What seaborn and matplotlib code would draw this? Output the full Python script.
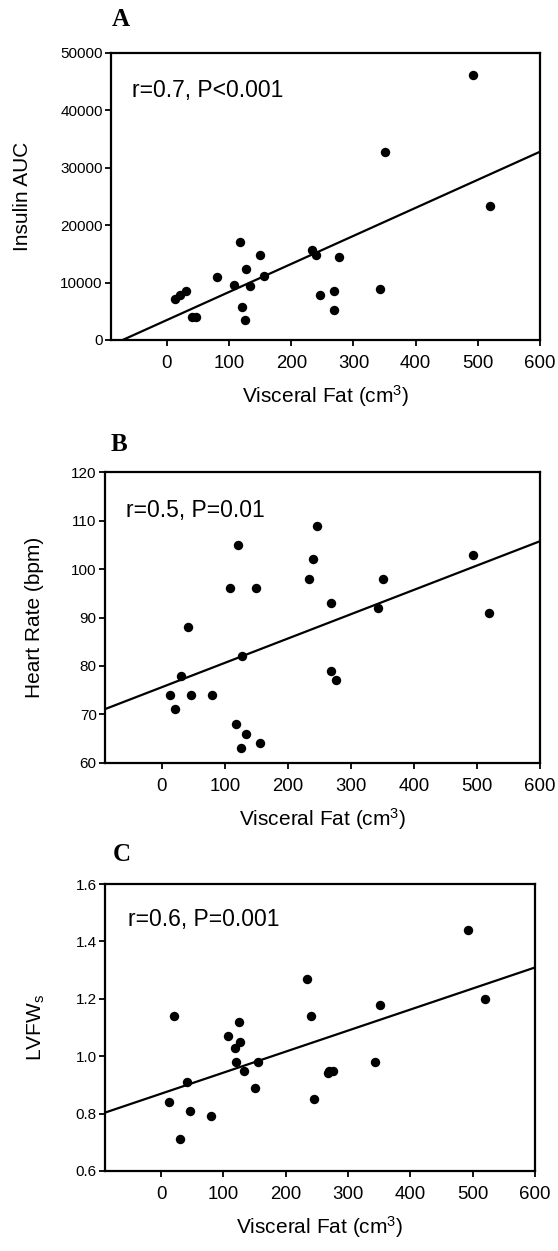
import numpy as np
import pandas as pd
import matplotlib
matplotlib.use("Agg")
import matplotlib.pyplot as plt
from matplotlib.ticker import FormatStrFormatter
import seaborn as sns

# ---- data ----
visceral_fat = [13, 21, 30, 41, 47, 80, 108, 118, 121, 125, 127, 133, 150, 156,
                234, 240, 246, 268, 269, 276, 343, 351, 493, 519]
insulin_auc = [7100, 7800, 8500, 4050, 4050, 11000, 9540, 17050, 5660, 3470, 12430,
               9360, 14850, 11100, 15720, 14850, 7860, 8550, 5200, 14450, 8960,
               32770, 46070, 23240]
heart_rate = [74, 71, 78, 88, 74, 74, 96, 68, 105, 63, 82, 66, 96, 64,
              98, 102, 109, 93, 79, 77, 92, 98, 103, 91]
lvfw = [0.84, 1.14, 0.71, 0.91, 0.81, 0.79, 1.07, 1.03, 0.98, 1.12, 1.05, 0.95,
        0.89, 0.98, 1.27, 1.14, 0.85, 0.94, 0.95, 0.95, 0.98, 1.18, 1.44, 1.20]

x_ticks = [0, 100, 200, 300, 400, 500, 600]
panel_letters = ["A", "B", "C"]
y_labels = ["Insulin AUC", "Heart Rate (bpm)", "LVFW$_{\\mathregular{s}}$"]
stats_text = ["r=0.7, P<0.001", "r=0.5, P=0.01", "r=0.6, P=0.001"]
y_ticks = [[0, 10000, 20000, 30000, 40000, 50000],
           [60, 70, 80, 90, 100, 110, 120],
           [0.6, 0.8, 1.0, 1.2, 1.4, 1.6]]

df = pd.DataFrame({"fat": visceral_fat, "insulin": insulin_auc,
                   "hr": heart_rate, "lvfw": lvfw})
y_cols = ["insulin", "hr", "lvfw"]

sns.set_style("ticks")
plt.rcParams["font.family"] = ["Liberation Sans", "DejaVu Sans"]
plt.rcParams["mathtext.fontset"] = "custom"
plt.rcParams["mathtext.rm"] = "Liberation Sans"
plt.rcParams["mathtext.it"] = "Liberation Sans"
plt.rcParams["mathtext.default"] = "regular"
for k in ["text.color", "axes.labelcolor", "xtick.color", "ytick.color", "axes.edgecolor"]:
    plt.rcParams[k] = "black"

W, H = 558, 1251
fig = plt.figure(figsize=(W / 100, H / 100), dpi=100)

# axes boxes in pixels: left, right, top, bottom
boxes = [(111, 540, 52.7, 340), (105, 540, 472.3, 762.7), (105, 535, 884, 1171)]
letter_pos = [(112, 26), (111, 451), (113, 861)]
ylabel_x = [-0.185, -0.14, -0.135]
stats_pos = [(0.048, 0.87), (0.049, 0.87), (0.053, 0.877)]

for i, (l, r, t, b) in enumerate(boxes):
    ax = fig.add_axes([l / W, 1 - b / H, (r - l) / W, (b - t) / H])
    ax.set_xlim(-90, 600)
    ax.set_ylim(y_ticks[i][0], y_ticks[i][-1])
    sns.regplot(data=df, x="fat", y=y_cols[i], ax=ax, ci=None, truncate=False,
                scatter_kws=dict(s=46, color="black", linewidths=0, alpha=1),
                line_kws=dict(color="black", lw=1.6))
    ax.set_xlim(-90, 600)
    ax.set_ylim(y_ticks[i][0], y_ticks[i][-1])
    ax.set_xticks(x_ticks)
    ax.set_yticks(y_ticks[i])
    if i == 2:
        ax.yaxis.set_major_formatter(FormatStrFormatter("%.1f"))
    for s in ax.spines.values():
        s.set_visible(True)
        s.set_linewidth(1.6)
        s.set_color("black")
    ax.tick_params(axis="both", direction="out", length=4, width=1.3,
                   color="black", labelcolor="black", top=False, right=False)
    ax.tick_params(axis="x", labelsize=13.4, pad=7)
    ax.tick_params(axis="y", labelsize=11, pad=2)
    ax.set_xlabel("Visceral Fat (cm$^{3}$)", fontsize=15, labelpad=8, color="black")
    ax.set_ylabel(y_labels[i], fontsize=15, color="black")
    ax.yaxis.set_label_coords(ylabel_x[i], 0.5)
    ax.text(stats_pos[i][0], stats_pos[i][1], stats_text[i], transform=ax.transAxes,
            fontsize=16.5, va="center", ha="left", color="black")
    fig.text(letter_pos[i][0] / W, 1 - letter_pos[i][1] / H, panel_letters[i],
             family="Liberation Serif", fontweight="bold", fontsize=18,
             va="baseline", ha="left", color="black")

fig.savefig("out.png", dpi=100, facecolor="white")
